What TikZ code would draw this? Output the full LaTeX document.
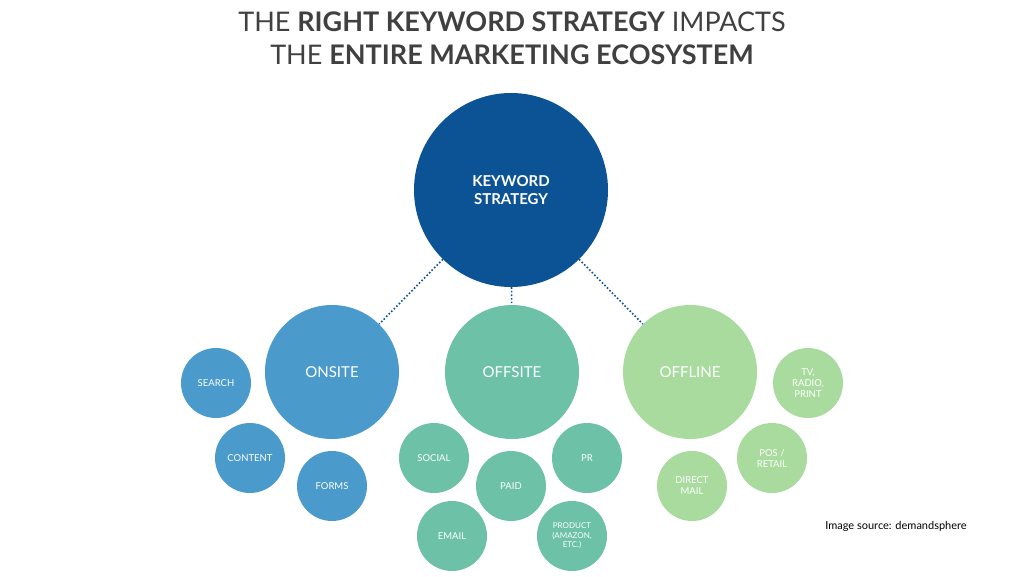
\documentclass[tikz,border=0pt]{standalone}
\usepackage{fontspec}
\setmainfont{Lato}
\definecolor{kwblue}{HTML}{0B5394}
\definecolor{onblue}{HTML}{4A9BCB}
\definecolor{offteal}{HTML}{6CC1A6}
\definecolor{offgreen}{HTML}{A9DB9F}
\tikzset{
  bigbub/.style={circle, minimum size=194pt, fill=kwblue, text=white, font=\bfseries\fontsize{15}{18}\selectfont, align=center},
  midbub/.style={circle, minimum size=134pt, text=white, font=\fontsize{15}{18}\selectfont},
  smallbub/.style={circle, minimum size=70pt, inner sep=1pt, text=white, font=\fontsize{9.5}{11}\selectfont, align=center},
  link/.style={dotted, line width=1.6pt, kwblue}
}
\begin{document}
\begin{tikzpicture}[x=1pt,y=-1pt]
  \useasboundingbox (0,0) rectangle (1024,576);
  \node[font=\fontsize{27}{30}\selectfont, text=black!75] (title1) at (512,22) {THE \textbf{RIGHT KEYWORD STRATEGY} IMPACTS};
  \node[font=\fontsize{27}{30}\selectfont, text=black!75] (title2) at (512,55) {THE \textbf{ENTIRE MARKETING ECOSYSTEM}};

  \node[bigbub] (kw) at (511,190) {KEYWORD\\STRATEGY};
  \node[midbub, fill=onblue] (onsite) at (332,372) {ONSITE};
  \node[midbub, fill=offteal] (offsite) at (512,372) {OFFSITE};
  \node[midbub, fill=offgreen] (offline) at (690,372) {OFFLINE};

  % onsite group
  \node[smallbub, fill=onblue] (search) at (216,383) {SEARCH};
  \node[smallbub, fill=onblue] (content) at (250,458) {CONTENT};
  \node[smallbub, fill=onblue] (forms) at (332,486) {FORMS};
  % offsite group
  \node[smallbub, fill=offteal] (social) at (434,458) {SOCIAL};
  \node[smallbub, fill=offteal] (paid) at (511,486) {PAID};
  \node[smallbub, fill=offteal] (pr) at (587,458) {PR};
  \node[smallbub, fill=offteal] (email) at (452,536) {EMAIL};
  \node[smallbub, fill=offteal, font=\fontsize{8}{9.5}\selectfont] (product) at (572,536) {PRODUCT\\(AMAZON,\\ETC.)};
  % offline group
  \node[smallbub, fill=offgreen] (direct) at (692,486) {DIRECT\\MAIL};
  \node[smallbub, fill=offgreen] (pos) at (772,458) {POS /\\RETAIL};
  \node[smallbub, fill=offgreen] (tv) at (808,383) {TV,\\RADIO,\\PRINT};

  \draw[link] (kw) -- (onsite);
  \draw[link] (kw) -- (offsite);
  \draw[link] (kw) -- (offline);

  \node[font=\fontsize{11}{13}\selectfont] (src) at (896,526) {Image source: demandsphere};
\end{tikzpicture}
\end{document}
